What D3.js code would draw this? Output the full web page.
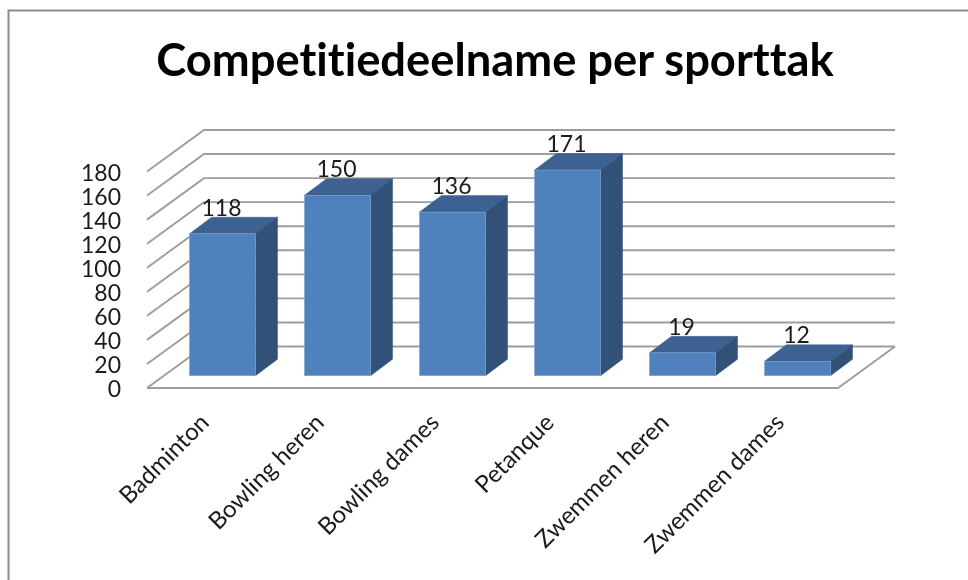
<!DOCTYPE html>
<html><head><meta charset="utf-8">
<script src="https://cdnjs.cloudflare.com/ajax/libs/d3/7.8.5/d3.min.js"></script>
<style>html,body{margin:0;padding:0;background:#fff}svg{display:block}text{font-family:Lato,"Open Sans",sans-serif;fill:#1a1a1a;font-variant-ligatures:none}</style>
</head><body>
<script>
const categories = ["Badminton","Bowling heren","Bowling dames","Petanque","Zwemmen heren","Zwemmen dames"];
const values = [118,150,136,171,19,12];
const yTicks = [0,20,40,60,80,100,120,140,160,180];
const titleText = "Competitiedeelname per sporttak";

const W=968,H=580;
const svg=d3.select("body").append("svg").attr("width",W).attr("height",H);
const defs=svg.append("defs");
defs.append("filter").attr("id","soft").append("feGaussianBlur").attr("stdDeviation",0.45);
const root=svg.append("g").attr("filter","url(#soft)");

// frame
root.append("path").attr("d",`M8.5 580V10.5H968`).attr("fill","none").attr("stroke","#8c8c8c").attr("stroke-width",2);

// title
root.append("text").attr("x",495).attr("y",76).attr("text-anchor","middle")
  .attr("font-size",45.3).attr("font-weight",700).style("fill","#000").text(titleText);

// scales
const floorX0=147, floorX1=838, floorY=388, depthX=57, depthY=-41.5;
const y=d3.scaleLinear().domain([0,180]).range([floorY,floorY-216.5]);
const xb=d3.scaleBand().domain(categories).range([floorX0,floorX0+690]).padding(0);
const barW=66, barBase=375.7, bDX=22, bDY=-16.5;
const barX=c=>xb(c)+42.5;

// walls / gridlines
const grid=root.append("g").attr("fill","none").attr("stroke","#9d9d9d").attr("stroke-width",1.9);
grid.selectAll("path.g").data(yTicks).join("path").attr("class","g")
  .attr("d",t=>d3.line()([[floorX0,y(t)],[floorX0+depthX,y(t)+depthY],[floorX1+depthX,y(t)+depthY]]));
grid.append("path").attr("d",d3.line()([[floorX0,floorY],[floorX1,floorY],[floorX1+depthX,floorY+depthY]]));

// y axis
const axis=root.append("g").attr("transform","translate(121,1.5)")
  .call(d3.axisLeft(y).tickValues(yTicks).tickSize(0).tickPadding(0));
axis.select(".domain").remove();
axis.selectAll("text").attr("font-size",23).attr("font-family","Lato").attr("fill","#1a1a1a");

// bars
const h=v=>y(0)-y(v);
const bars=root.selectAll("g.bar").data(categories.map((c,i)=>({c,v:values[i]}))).join("g").attr("class","bar")
  .attr("transform",d=>`translate(${barX(d.c)},${barBase-h(d.v)})`);
bars.append("path").attr("fill","#3c6291").attr("stroke","#3c6291").attr("stroke-width",.5)
  .attr("d",d=>d3.line()([[0,0],[bDX,bDY],[barW+bDX,bDY],[barW,0]])+"Z");
bars.append("path").attr("fill","#305179").attr("stroke","#305179").attr("stroke-width",.5)
  .attr("d",d=>d3.line()([[barW,0],[barW+bDX,bDY],[barW+bDX,h(d.v)+bDY],[barW,h(d.v)]])+"Z");
bars.append("rect").attr("width",barW).attr("height",d=>h(d.v)).attr("fill","#4f81bd").attr("stroke","#7ea3d0").attr("stroke-width",.6);
bars.append("text").attr("x",barW/2-1).attr("y",-18).attr("text-anchor","middle").attr("font-size",23).text(d=>d.v);

// category labels
root.selectAll("text.cat").data(categories).join("text").attr("class","cat")
  .attr("transform",c=>`translate(${barX(c)+barW/2-12},${424}) rotate(-45)`)
  .attr("text-anchor","end").attr("font-size",24).text(c=>c);
</script>
</body></html>
